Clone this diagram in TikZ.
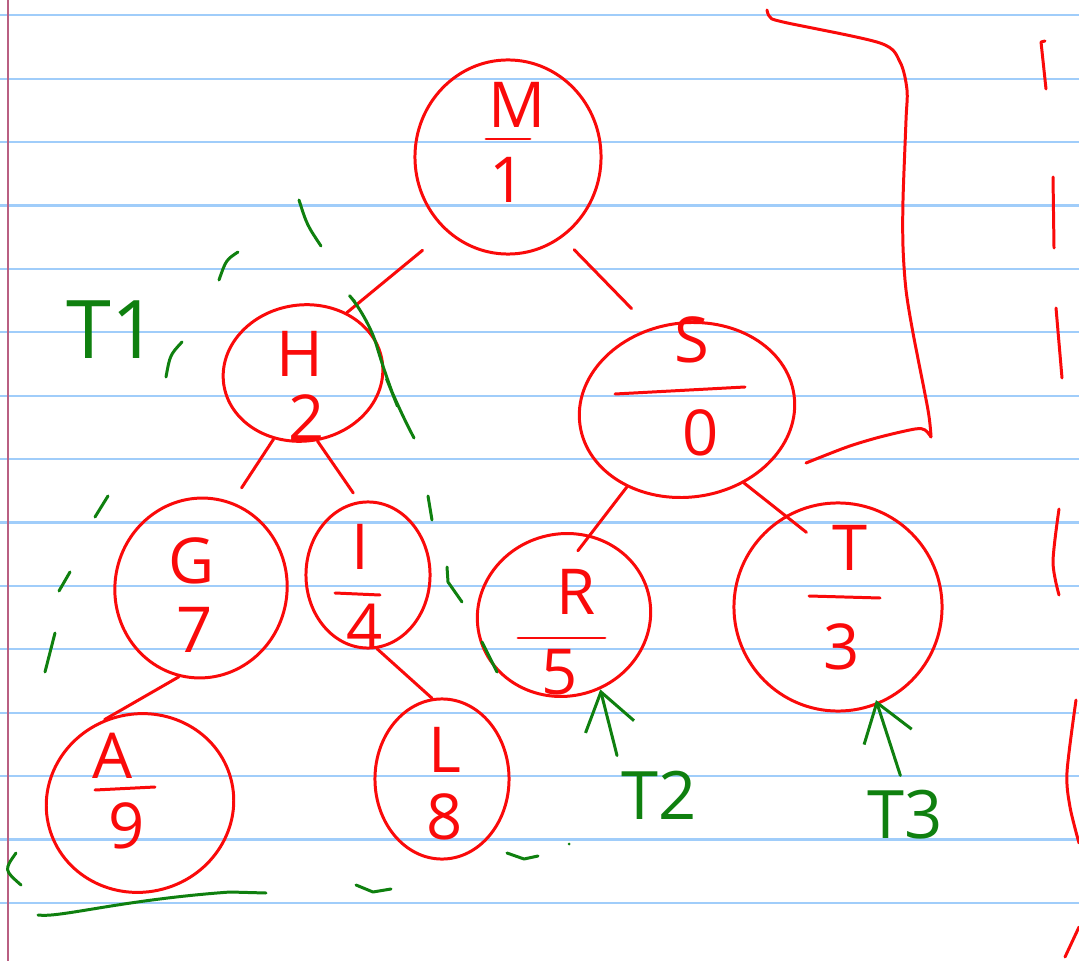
\documentclass[tikz,border=0pt]{standalone}
\usepackage{fontspec}
\newfontfamily\handfont{Open Sans}
\usetikzlibrary{arrows.meta,shapes.geometric}
\definecolor{pen}{RGB}{250,10,10}
\definecolor{marker}{RGB}{15,128,15}
\definecolor{paperline}{RGB}{160,205,250}
\definecolor{margin}{RGB}{185,95,130}

\begin{document}
\begin{tikzpicture}[x=0.01cm, y=-0.01cm,
	oval/.style={ellipse, draw=pen, line width=0.85pt, inner sep=0pt},
	glyph/.style={text=pen, font=\handfont\fontsize{18}{18}\selectfont, inner sep=0pt},
	tag/.style={text=marker, font=\handfont\fontsize{19}{19}\selectfont, inner sep=0pt},
	link/.style={draw=pen, line width=0.85pt, line cap=round, line join=round},
	scrawl/.style={draw=marker, line width=0.85pt, line cap=round, line join=round},
	point/.style={scrawl, -{Straight Barb[length=0.36cm, width=0.5cm]}}]
		\useasboundingbox (0,0) rectangle (1079,961);
		\fill[white] (0,0) rectangle (1079,961);
		\foreach \k in {0,...,14} {
			\draw[paperline, line width=0.6pt] (0,{15.3+63.4*\k}) -- (1079,{15.3+63.4*\k});
		}
		\draw[margin, line width=0.6pt] (8.3,0) -- (8.3,961);
		
		\foreach \name/\x/\y/\w/\h/\r in {M/508/157/1.86/1.94/0, H/303/373/1.60/1.36/8, S/687/410/2.16/1.74/8,
			G/201/588/1.72/1.80/-10, I/368/575/1.24/1.46/0, R/564/615/1.74/1.62/15,
			T/838/607/2.08/2.08/0, A/140/803/1.88/1.78/15, L/442/779/1.34/1.60/0} {
			\node[oval, minimum width=\w cm, minimum height=\h cm, rotate=\r] (o\name) at (\x,\y) {};
		}
		\foreach \name/\x/\y in {M/517/105, H/300/354, S/692/340, G/192/561, I/360/547,
			R/576/592, T/850/548, A/113/756, L/445/750} {
			\node[glyph] (c\name) at (\x,\y) {\name};
		}
		\foreach \name/\x/\y/\v in {M/508/180/1, H/307/418/2, S/701/433/0, G/195/630/7, I/365/627/4,
			R/560/672/5, T/842/647/3, A/127/826/9, L/445/817/8} {
			\node[glyph] (d\name) at (\x,\y) {\v};
		}
		\draw[link] (486,139) -- (530,139);
		\draw[link] (615,394) -- (745,387);
		\draw[link] (335,593) -- (380,595);
		\draw[link] (518,638) -- (605,638);
		\draw[link] (809,596) -- (880,598);
		\draw[link] (95,790) -- (155,787);
		
		\draw[link, shorten <=0.3cm] (oM.230) -- (oH.46);
		\draw[link, shorten <=0.17cm, shorten >=0.27cm] (oM.304) -- (oS.106);
		\draw[link, shorten >=0.17cm] (oH.238) -- (oG.80);
		\draw[link, shorten >=0.1cm] (oH.274) -- (oI.97);
		\draw[link] (oG.266) -- (oA.98);
		\draw[link] (oI.277) -- (oL.97);
		\draw[link, shorten >=-0.2cm] (oS.224) -- (oR.57);
		\draw[link, shorten >=-0.27cm] (oS.300) -- (oT.120);
		
		\draw[link] plot[smooth] coordinates {(767,10) (770,17) (783,22) (880,43) (900,62) (907,90) (906,120)
			(903,200) (903,247) (906,290) (913,333) (928,410) (931,437)};
		\draw[link] plot[smooth] coordinates {(931,437) (925,430) (915,429) (880,437) (847,447) (806,463)};
		\draw[link] (1045,41) -- (1041,42) -- (1046,89);
		\draw[link] (1053,177) -- (1054,248);
		\draw[link] (1056,308) -- (1062,378);
		\draw[link] plot[smooth] coordinates {(1059,509) (1053,562) (1059,595)};
		\draw[link] plot[smooth] coordinates {(1076,700) (1067,772) (1070,807) (1079,843)};
		\draw[link] (1079,927) -- (1065,957);
		
		\node[tag, font=\handfont\fontsize{23}{23}\selectfont] (t1) at (112,330) {T1};
		\node[tag] (t2) at (659,795) {T2};
		\node[tag] (t3) at (905,815) {T3};
		\draw[point, shorten <=0.15cm] (t2.north west) -- (oR.281);
		\draw[point, shorten <=0.15cm, shorten >=-0.05cm] (t3.north) -- (oT.292);
		
		\draw[scrawl] (299,200) .. controls (307,225) .. (321,246);
		\draw[scrawl] (238,252) .. controls (226,260) .. (219,280);
		\draw[scrawl] (182,342) .. controls (170,355) .. (166,377);
		\draw[scrawl, rounded corners=8] (355,302) -- (368,317) -- (387,380) -- (397,405) -- (414,438);
		\draw[scrawl] (108,496) -- (95,517);
		\draw[scrawl] (70,572) -- (59,591);
		\draw[scrawl] (55,633) -- (45,672);
		\draw[scrawl] (16,853) .. controls (4,870) .. (21,885);
		\draw[scrawl] (38,915) .. controls (60,918) and (120,900) .. (230,892) -- (266,893);
		\draw[scrawl] (356,885) -- (373,892) -- (391,889);
		\draw[scrawl] (507,853) -- (524,859) -- (538,856);
		\fill[marker] (569,844) circle (1.5);
		\draw[scrawl] (428,496) -- (432,520);
		\draw[scrawl] (447,567) -- (448,582) -- (462,602);
		\draw[scrawl] (482,642) -- (497,672);
	\end{tikzpicture}
\end{document}
